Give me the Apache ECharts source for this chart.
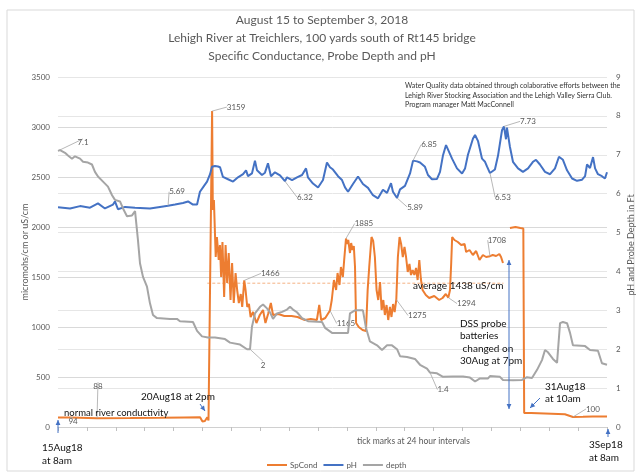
<!DOCTYPE html>
<html><head><meta charset="utf-8">
<script src="https://cdn.jsdelivr.net/npm/echarts@6/dist/echarts.min.js"></script>
<style>html,body{margin:0;padding:0;background:#fff}#c{width:638px;height:474px}</style>
</head><body><div id="c"></div>
<script>
// ---- DATA (x = hours after 15 Aug 2018 08:00) ----
const spHours = [0,10,32.4,60,85,105,118,120,122,124,125,126.3,128,128.6,129.5,131,132,133.5,134.5,135.5,136.6,138,139.2,140.5,141.8,143.3,144.6,146,147.5,148.8,150.2,151.8,153,154.7,155.8,157.2,158.6,160,162,164.8,167.6,170.3,172.3,174.5,176.8,178.6,183,188,194,199,205,210,215,217,218.6,222,224.6,225.9,227.4,229.2,231,232.2,233.8,235,236.6,237.7,239.2,240.3,241.1,242.5,243.5,244.6,245.7,246.7,247.6,249.8,253,255.8,257.2,258.5,260.4,261.8,263.2,264.6,266,267.5,268.8,270.2,271.5,272.9,274.3,275.7,277,278.3,279.6,281,282.3,283.7,285,286.4,287.8,289.1,290.5,291.9,293.2,294.6,296,297.4,298.7,300.1,301.4,302.8,305.5,308.3,312.5,316.6,319.4,322.1,324.2,325.6,326.6,327.4,329.3,330.7,332.1,333.5,334.9,337.7,339,341.8,344.6,347.3,350.1,352.9,355.6,358.8,361.1,363.9,366.6,368,369.6,372,375.4,380,384,386.5,387.2,393,410,421,427.7,436,444,456];
const spValues = [94,94,88,90,92,96,98,55,60,97,65,70,3159,2170,2270,1700,1900,1670,1820,1500,1850,1300,1820,1440,1740,1270,1640,1240,1540,1370,1240,1330,1200,1466,1370,1200,1230,1100,1150,1040,1120,1170,1040,1130,1240,1120,1130,1110,1110,1100,1070,1080,1070,1220,1070,1090,1140,1165,1270,1470,1370,1540,1420,1600,1500,1670,1885,1830,1870,1740,1840,1770,1810,1600,1040,1000,970,960,1370,1600,1900,1860,1700,1370,1270,1450,1170,1270,1120,1220,1070,1200,1100,1230,1150,1275,1700,1900,1830,1700,1800,1700,1550,1630,1520,1570,1520,1590,1470,1670,1480,1370,1320,1290,1310,1270,1290,1330,1294,1370,1640,1900,1870,1880,1850,1860,1820,1830,1750,1770,1720,1760,1670,1720,1700,1708,1720,1710,1730,1700,1640,null,1990,2000,1990,1985,140,140,133,127,100,103,106,105];

const phHours = [0,10,18.3,26.6,33.2,39,45.7,47.3,49.8,55.7,64,76.4,84.7,91.4,97.2,103.8,108,112.1,115.5,117.9,121.3,123.8,126.3,127.9,130.4,132.9,134.6,137,141.2,145.4,149.5,153.7,156.2,157.8,161.1,163.6,165.3,169.4,171.9,174.4,176.9,180.2,184.4,188.5,190.2,194.4,198.5,202.7,206,207.6,211.8,216,220.1,223.4,225.9,228.4,232.6,235.9,238.4,240.9,245,249.2,253.3,257.5,261.6,265.8,269.9,273.3,276.6,278.2,281.6,284.1,288.2,292.4,294.9,298.2,300.7,302.3,304.8,307.3,310.6,314.8,317.3,319.8,322.3,323.9,327.3,331.4,335.6,338.1,340.5,344.7,346.4,348.9,352.2,354.7,356.3,358.8,362.9,365.5,368.8,370.4,372.1,372.9,375.4,377.9,382.1,386.2,390.4,394.5,397,400.3,404.5,408.7,412.8,416.1,419.4,422.8,427,431.1,435.3,437.8,439.4,441.9,444.4,446.1,448.5,451.8,454.3,456];
const phValues = [5.65,5.62,5.68,5.64,5.75,5.62,5.72,5.8,5.6,5.66,5.64,5.62,5.66,5.69,5.72,5.76,5.8,5.72,5.72,6.05,6.2,6.31,6.5,6.69,6.71,6.7,6.68,6.43,6.37,6.31,6.42,6.5,6.6,6.45,6.52,6.85,6.6,6.48,6.54,6.78,6.45,6.55,6.47,6.32,6.42,6.35,6.42,6.48,6.65,6.42,6.26,6.16,6.35,6.8,6.68,6.62,6.45,6.35,6.16,6.05,6.25,6.44,6.25,6.15,5.96,5.88,6.1,6.02,6.27,6.05,5.89,6.11,6.2,6.52,6.85,6.83,6.8,6.82,6.69,6.48,6.37,6.38,6.56,6.99,7.25,7.2,6.9,6.65,6.52,6.65,7.0,7.42,7.51,7.35,6.9,6.82,6.7,6.53,6.62,6.98,7.63,7.73,7.4,7.7,7.2,6.82,6.65,6.56,6.65,6.82,6.87,6.75,6.56,6.5,6.65,6.95,6.87,6.6,6.39,6.33,6.36,6.45,6.75,6.66,6.94,6.65,6.5,6.45,6.39,6.55];

const depthHours = [0,1.7,5.8,8.3,11.6,14.1,18.3,20.8,24.9,28.2,30.7,33.2,37.4,41.5,44.9,47.3,51.5,54,57.3,61.5,64,65.6,66.4,68.1,70.6,73.9,76.4,78.9,82.2,93,98.8,101.3,112.1,115.5,119.6,124.6,130.4,138.7,142.9,151.2,157,159.5,161.1,163.6,167.8,170.3,173.6,176.1,178.6,181.9,186.1,190.2,192.7,195.2,198.5,202.7,207.6,219.3,221.8,227.6,240.9,242.5,246.7,253.3,255.8,259.1,265,269.1,273.3,277.4,281.6,284.1,289.9,296.5,300.7,306.5,309,314.8,319.8,328.1,336.4,342.2,346.4,350.5,357.2,358.8,367.1,369.6,377.9,385.4,389.5,393.7,397.9,402,404.5,407,411.1,414.5,417,419.4,422.8,425.3,427.7,437.8,441.9,448.5,451.8,456];
const depthValues = [7.1,7.12,7.05,6.98,6.9,6.96,6.9,6.82,6.8,6.75,6.56,6.44,6.31,6.18,5.96,5.84,5.8,5.62,5.42,5.44,5.55,5.5,4.81,4.21,3.86,3.61,3.18,2.88,2.8,2.78,2.78,2.72,2.7,2.47,2.33,2.3,2.3,2.26,2.17,2.12,2.0,2.0,2.58,2.92,3.09,3.15,3.05,2.95,2.78,2.92,2.96,3.02,3.09,3.02,2.95,2.8,2.72,2.7,2.55,2.42,2.42,2.92,3.0,3.0,2.55,2.2,2.1,1.98,2.1,2.1,2.0,1.82,1.8,1.75,1.6,1.5,1.4,1.38,1.29,1.3,1.3,1.27,1.17,1.25,1.25,1.31,1.29,1.21,1.2,1.21,1.28,1.26,1.47,1.72,1.98,1.92,1.75,1.65,2.67,2.7,2.67,2.42,2.1,2.08,1.98,1.96,1.64,1.6];

const avgHours = [124, 370];
const avgValue = 1438;

const titleLines = ['August 15 to September 3, 2018', 'Lehigh River at Treichlers, 100 yards south of Rt145 bridge', 'Specific Conductance, Probe Depth and pH'];
const leftAxisName = 'micromohs/cm or uS/cm';
const rightAxisName = 'pH and Probe Depth in Ft';

// ---- STYLE / LABEL PLACEMENT ----
const ORANGE = '#ED7D31', BLUE = '#4472C4', GREY = '#A5A5A5', TXT = '#595959';
const FONT = 'Lato, "Liberation Sans", sans-serif';
const spLabelAt = [{h:10,dx:3,dy:4},{h:32.4,dx:1,dy:-32},{h:128,dx:24,dy:-4},{h:154.7,dx:26,dy:-7},{h:225.9,dx:16,dy:13},{h:239.2,dx:18,dy:-15},{h:281,dx:21,dy:16},{h:324.2,dx:18,dy:6},{h:358.8,dx:7,dy:-16},{h:427.7,dx:20,dy:-8}];
const phLabelAt = [{h:91.4,dx:9,dy:-14},{h:188.5,dx:20,dy:16},{h:281.6,dx:18,dy:9},{h:294.9,dx:16,dy:-16},{h:358.8,dx:13,dy:24},{h:370.4,dx:24,dy:-5}];
const depthLabelAt = [{h:0,dx:25,dy:-8},{h:159.5,dx:13,dy:16},{h:309,dx:13,dy:17}];

const offsets = [];
function build(si, hours, values, labs) {
  offsets[si] = {};
  return hours.map((h, i) => {
    const v = values[i];
    const item = { value: [h, v == null ? '-' : v] };
    const lb = labs.find(l => l.h === h);
    if (lb) { item.label = { show: true }; offsets[si][i] = { dx: lb.dx, dy: lb.dy }; }
    return item;
  });
}
const spData = build(0, spHours, spValues, spLabelAt);
const phData = build(1, phHours, phValues, phLabelAt);
const depthData = build(2, depthHours, depthValues, depthLabelAt);

const lbl = {
  show: false, position: 'inside', fontSize: 8, color: TXT, fontFamily: FONT,
  formatter: p => String(p.value[1])
};
const layoutFn = p => (offsets[p.seriesIndex] && offsets[p.seriesIndex][p.dataIndex]) || {};
const lblLine = { show: true, lineStyle: { color: '#a6a6a6', width: 0.8 } };

function t(text, x, y, opt, extra) {
  return Object.assign({ type: 'text', x: x, y: y, z: 100, style: Object.assign({
    text: text, font: '10px ' + FONT, fill: '#111', textVerticalAlign: 'middle'
  }, opt || {}) }, extra || {});
}
function head(ax, ay, bx, by) {
  const a = Math.atan2(by - ay, bx - ax), L = 5, W = 2.4;
  const c = Math.cos(a), s = Math.sin(a);
  return { type: 'polygon', z: 100, shape: { points: [[bx, by], [bx - L*c + W*s, by - L*s - W*c], [bx - L*c - W*s, by - L*s + W*c]] }, style: { fill: BLUE } };
}
function arrow(x1, y1, x2, y2, both) {
  const els = [{ type: 'line', z: 100, shape: { x1, y1, x2, y2 }, style: { stroke: BLUE, lineWidth: 1 } }, head(x1, y1, x2, y2)];
  if (both) els.push(head(x2, y2, x1, y1));
  return els;
}

const titleEls = titleLines.map((s, i) => t(s, 322, 20 + 18 * i, { font: '12px ' + FONT, fill: TXT, textAlign: 'center' }));
const axisNameEls = [
  t(leftAxisName, 25, 252, { font: '9px ' + FONT, fill: TXT, textAlign: 'center' }, { rotation: Math.PI / 2 }),
  t(rightAxisName, 631, 245, { font: '9px ' + FONT, fill: TXT, textAlign: 'center' }, { rotation: Math.PI / 2 })
];

const graphics = [
  { type: 'rect', z: -10, shape: { x: 7, y: 10, width: 627, height: 461 }, style: { fill: 'none', stroke: '#d9d9d9', lineWidth: 1 } },
  t('Water Quality data obtained through colaborative efforts between the', 405, 86, { font: '7px ' + FONT, fill: '#333' }),
  t('Lehigh River Stocking Association and the Lehigh Valley Sierra Club.', 405, 95.5, { font: '7px ' + FONT, fill: '#333' }),
  t('Program manager Matt MacConnell', 405, 105, { font: '7px ' + FONT, fill: '#333' }),
  t('normal river conductivity', 64, 413, { font: '9.5px ' + FONT }),
  t('20Aug18 at 2pm', 141, 397),
  t('15Aug18', 42, 448),
  t('at 8am', 42, 461),
  t('3Sep18', 589, 445),
  t('at 8am', 589, 458),
  t('31Aug18', 545, 387),
  t('at 10am', 545, 399),
  t('DSS probe', 460, 324),
  t('batteries', 460, 336),
  t(' changed on', 460, 349),
  t('30Aug at 7pm', 460, 361),
  t('average 1438 uS/cm', 413, 286),
  t('tick marks at 24 hour intervals', 357, 441, { font: '8.5px ' + FONT, fill: TXT })
].concat(titleEls, axisNameEls, arrow(200, 404, 205, 411), arrow(58, 433, 58, 420), arrow(608, 437, 608, 429),
  arrow(540, 398, 530, 408), arrow(509, 260, 509, 409, true));

const chart = echarts.init(document.getElementById('c'), null, { renderer: 'canvas' });
chart.setOption({
  animation: false,
  backgroundColor: '#fff',
  textStyle: { fontFamily: FONT },
  grid: { left: 58, right: 31, top: 77, bottom: 47 },
  legend: {
    top: 456, left: 262, itemWidth: 20, itemHeight: 2, icon: 'rect', itemGap: 6,
    textStyle: { fontSize: 8, color: TXT, fontFamily: FONT, padding: [0, 0, 0, -2] },
    data: ['SpCond', 'pH', 'depth']
  },
  xAxis: {
    type: 'value', min: 0, max: 456, interval: 24,
    axisLabel: { show: false },
    axisLine: { lineStyle: { color: '#d0d0d0' } },
    axisTick: { show: true, length: 4, lineStyle: { color: '#c0c0c0' } },
    splitLine: { show: false }
  },
  yAxis: [{
    type: 'value', min: 0, max: 3500, interval: 500, position: 'left',
    axisLabel: { fontSize: 8, color: TXT, margin: 8, fontFamily: FONT, formatter: v => String(v) },
    axisLine: { show: false }, axisTick: { show: false },
    splitLine: { lineStyle: { color: '#d9d9d9', width: 1 } }
  }, {
    type: 'value', min: 0, max: 9, interval: 1, position: 'right',
    axisLabel: { fontSize: 8, color: TXT, margin: 9, fontFamily: FONT, formatter: v => String(v) },
    axisLine: { show: false }, axisTick: { show: false },
    splitLine: { show: true, lineStyle: { color: '#e6e6e6', width: 1 } }
  }],
  series: [{
    name: 'SpCond', type: 'line', yAxisIndex: 0, data: spData,
    symbol: 'circle', symbolSize: 0, showSymbol: true, connectNulls: false,
    lineStyle: { color: ORANGE, width: 2 }, itemStyle: { color: ORANGE },
    label: lbl, labelLine: lblLine, labelLayout: layoutFn, z: 3
  }, {
    name: 'pH', type: 'line', yAxisIndex: 1, data: phData,
    symbol: 'circle', symbolSize: 0, showSymbol: true,
    lineStyle: { color: BLUE, width: 2 }, itemStyle: { color: BLUE },
    label: lbl, labelLine: lblLine, labelLayout: layoutFn, z: 4
  }, {
    name: 'depth', type: 'line', yAxisIndex: 1, data: depthData,
    symbol: 'circle', symbolSize: 0, showSymbol: true,
    lineStyle: { color: GREY, width: 2 }, itemStyle: { color: GREY },
    label: lbl, labelLine: lblLine, labelLayout: layoutFn, z: 5
  }, {
    name: 'average', type: 'line', yAxisIndex: 0,
    data: avgHours.map(h => [h, avgValue]),
    symbol: 'none', lineStyle: { color: '#F4B183', width: 1, type: [3, 2] }, z: 2,
    silent: true
  }],
  graphic: graphics
});
</script>
</body></html>
